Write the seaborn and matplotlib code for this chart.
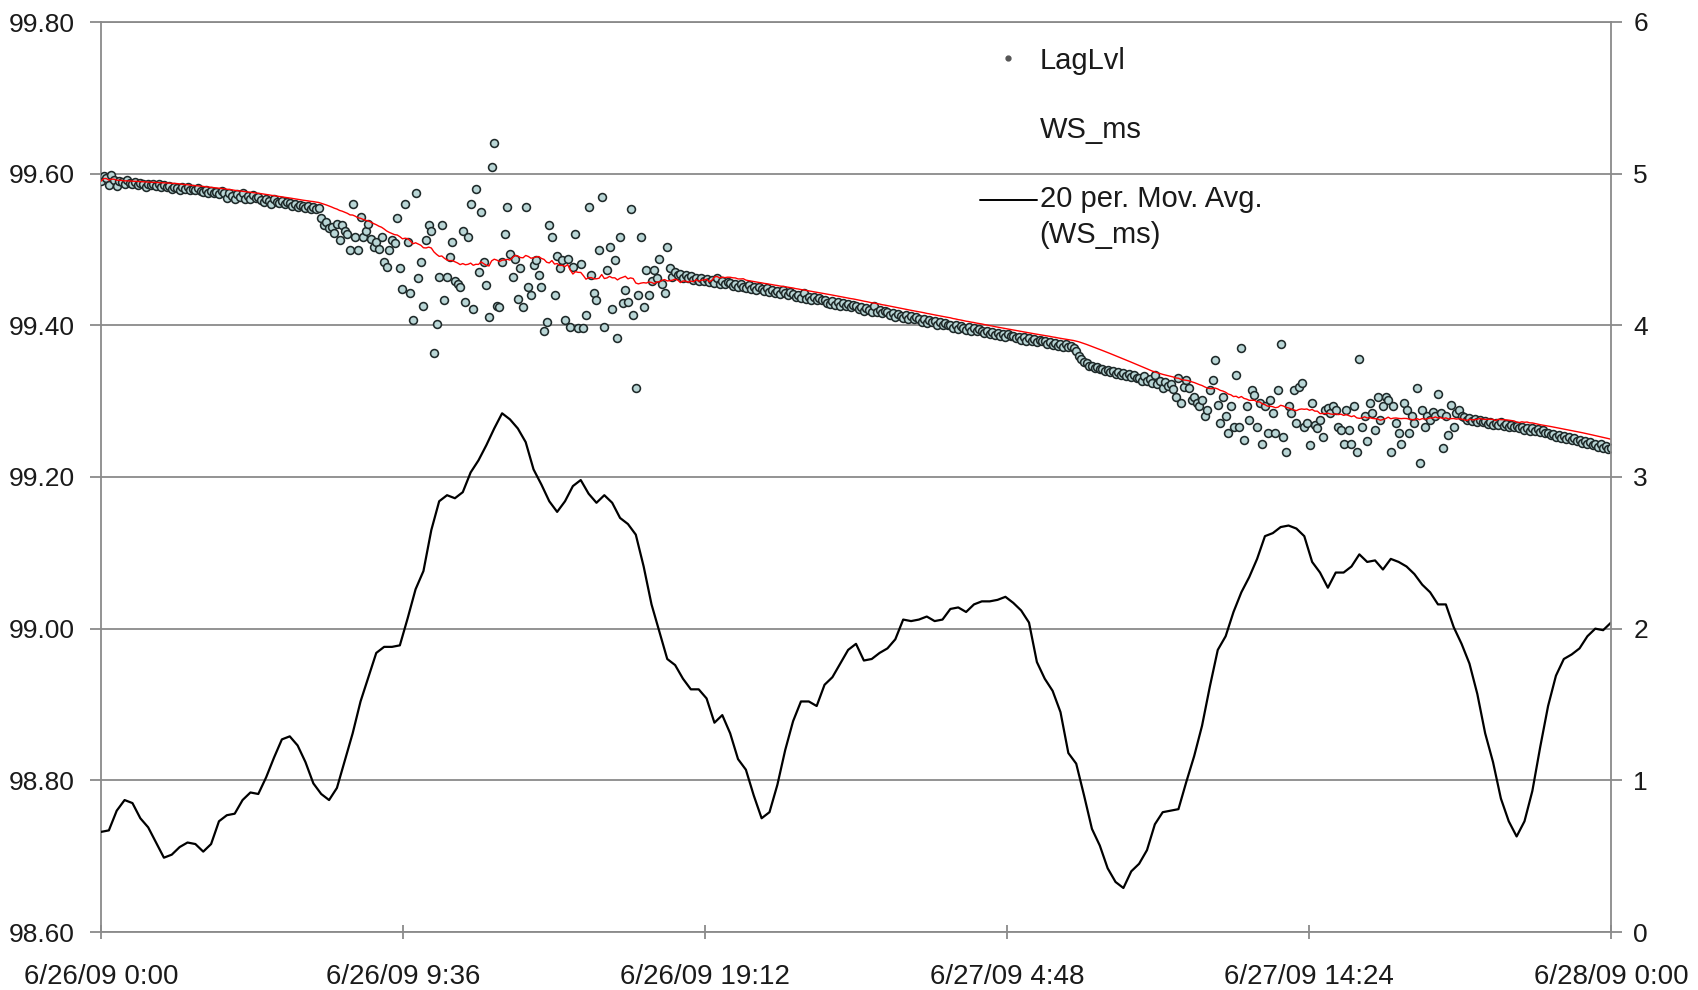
import numpy as np
import pandas as pd
import matplotlib
matplotlib.use("Agg")
import matplotlib.pyplot as plt
import matplotlib.dates as mdates
from matplotlib.lines import Line2D
from matplotlib.ticker import FuncFormatter, FormatStrFormatter
import seaborn as sns

# ---------------- data ----------------
START = "2009-06-26 00:00"
END = "2009-06-28 00:00"
X_TICKS = ["2009-06-26 00:00", "2009-06-26 09:36", "2009-06-26 19:12",
           "2009-06-27 04:48", "2009-06-27 14:24", "2009-06-28 00:00"]
LEFT_TICKS = [98.6, 98.8, 99.0, 99.2, 99.4, 99.6, 99.8]
RIGHT_TICKS = [0, 1, 2, 3, 4, 5, 6]

# LagLvl, one reading every 5 minutes (12 per row = 1 hour)
LAG_LVL = [
    99.590, 99.597, 99.594, 99.585, 99.598, 99.592, 99.584, 99.590, 99.589, 99.586, 99.591, 99.588,
    99.587, 99.589, 99.585, 99.588, 99.586, 99.583, 99.587, 99.585, 99.586, 99.584, 99.586, 99.583,
    99.585, 99.582, 99.584, 99.580, 99.583, 99.581, 99.578, 99.582, 99.580, 99.583, 99.578, 99.580,
    99.578, 99.581, 99.577, 99.576, 99.579, 99.575, 99.577, 99.574, 99.576, 99.573, 99.577, 99.575,
    99.568, 99.574, 99.571, 99.566, 99.573, 99.569, 99.574, 99.567, 99.570, 99.566, 99.572, 99.568,
    99.569, 99.565, 99.562, 99.567, 99.564, 99.560, 99.566, 99.563, 99.561, 99.564, 99.560, 99.562,
    99.561, 99.558, 99.560, 99.556, 99.559, 99.557, 99.555, 99.558, 99.554, 99.556, 99.553, 99.555,
    99.541, 99.532, 99.536, 99.528, 99.530, 99.522, 99.534, 99.512, 99.532, 99.525, 99.520, 99.499,
    99.560, 99.517, 99.499, 99.543, 99.517, 99.525, 99.534, 99.514, 99.503, 99.510, 99.501, 99.517,
    99.484, 99.477, 99.500, 99.512, 99.508, 99.541, 99.475, 99.448, 99.560, 99.510, 99.442, 99.407,
    99.574, 99.462, 99.484, 99.426, 99.512, 99.532, 99.525, 99.363, 99.402, 99.464, 99.532, 99.433,
    99.464, 99.490, 99.510, 99.459, 99.455, 99.451, 99.525, 99.431, 99.517, 99.560, 99.422, 99.580,
    99.470, 99.550, 99.484, 99.453, 99.411, 99.609, 99.640, 99.426, 99.424, 99.484, 99.521, 99.556,
    99.494, 99.464, 99.488, 99.435, 99.475, 99.424, 99.556, 99.451, 99.440, 99.479, 99.486, 99.466,
    99.451, 99.393, 99.404, 99.532, 99.517, 99.440, 99.492, 99.475, 99.486, 99.407, 99.488, 99.398,
    99.477, 99.521, 99.396, 99.481, 99.396, 99.413, 99.556, 99.466, 99.442, 99.433, 99.499, 99.569,
    99.398, 99.473, 99.503, 99.422, 99.486, 99.383, 99.517, 99.429, 99.446, 99.431, 99.554, 99.413,
    99.317, 99.440, 99.517, 99.424, 99.473, 99.440, 99.459, 99.473, 99.462, 99.488, 99.455, 99.442,
    99.503, 99.475, 99.464, 99.470, 99.466, 99.468, 99.463, 99.467, 99.462, 99.465, 99.460, 99.463,
    99.459, 99.463, 99.458, 99.461, 99.457, 99.460, 99.456, 99.462, 99.455, 99.458, 99.454, 99.457,
    99.456, 99.452, 99.455, 99.450, 99.454, 99.451, 99.449, 99.453, 99.448, 99.451, 99.447, 99.450,
    99.448, 99.445, 99.449, 99.444, 99.446, 99.442, 99.445, 99.441, 99.447, 99.443, 99.440, 99.444,
    99.441, 99.437, 99.440, 99.436, 99.442, 99.435, 99.438, 99.434, 99.437, 99.433, 99.436, 99.434,
    99.433, 99.430, 99.428, 99.432, 99.427, 99.431, 99.426, 99.429, 99.425, 99.428, 99.424, 99.427,
    99.425, 99.421, 99.424, 99.419, 99.423, 99.420, 99.418, 99.426, 99.417, 99.420, 99.416, 99.419,
    99.417, 99.413, 99.416, 99.411, 99.415, 99.412, 99.410, 99.414, 99.409, 99.412, 99.408, 99.411,
    99.409, 99.405, 99.408, 99.403, 99.407, 99.404, 99.406, 99.401, 99.404, 99.400, 99.403, 99.401,
    99.401, 99.397, 99.400, 99.395, 99.399, 99.396, 99.394, 99.398, 99.393, 99.396, 99.392, 99.395,
    99.393, 99.390, 99.392, 99.388, 99.391, 99.387, 99.390, 99.386, 99.389, 99.385, 99.388, 99.386,
    99.386, 99.383, 99.385, 99.381, 99.384, 99.380, 99.383, 99.379, 99.382, 99.378, 99.381, 99.379,
    99.379, 99.376, 99.378, 99.374, 99.377, 99.373, 99.376, 99.372, 99.375, 99.371, 99.373, 99.370,
    99.366, 99.360, 99.355, 99.351, 99.350, 99.347, 99.346, 99.344, 99.345, 99.342, 99.343, 99.340,
    99.341, 99.338, 99.340, 99.336, 99.338, 99.335, 99.337, 99.333, 99.336, 99.332, 99.334, 99.331,
    99.331, 99.327, 99.333, 99.326, 99.329, 99.324, 99.335, 99.322, 99.327, 99.318, 99.325, 99.320,
    99.323, 99.316, 99.306, 99.330, 99.297, 99.319, 99.328, 99.317, 99.302, 99.306, 99.297, 99.293,
    99.302, 99.280, 99.288, 99.315, 99.328, 99.354, 99.295, 99.271, 99.306, 99.280, 99.258, 99.293,
    99.266, 99.334, 99.266, 99.370, 99.249, 99.293, 99.275, 99.315, 99.308, 99.266, 99.297, 99.244,
    99.293, 99.258, 99.302, 99.284, 99.258, 99.315, 99.376, 99.253, 99.233, 99.293, 99.284, 99.315,
    99.271, 99.319, 99.324, 99.266, 99.271, 99.242, 99.297, 99.269, 99.264, 99.275, 99.253, 99.288,
    99.291, 99.284, 99.293, 99.288, 99.266, 99.262, 99.244, 99.288, 99.262, 99.244, 99.293, 99.233,
    99.356, 99.266, 99.280, 99.247, 99.297, 99.284, 99.262, 99.306, 99.275, 99.293, 99.306, 99.302,
    99.233, 99.293, 99.271, 99.258, 99.244, 99.297, 99.288, 99.258, 99.280, 99.271, 99.317, 99.218,
    99.288, 99.266, 99.280, 99.275, 99.286, 99.280, 99.310, 99.284, 99.238, 99.280, 99.255, 99.295,
    99.266, 99.284, 99.288, 99.280, 99.279, 99.275, 99.278, 99.274, 99.277, 99.273, 99.275, 99.272,
    99.274, 99.270, 99.273, 99.269, 99.271, 99.268, 99.272, 99.267, 99.270, 99.266, 99.269, 99.266,
    99.267, 99.264, 99.266, 99.262, 99.265, 99.261, 99.264, 99.260, 99.263, 99.259, 99.262, 99.258,
    99.258, 99.256, 99.257, 99.253, 99.256, 99.252, 99.254, 99.250, 99.253, 99.249, 99.251, 99.248,
    99.249, 99.245, 99.248, 99.243, 99.246, 99.242, 99.244, 99.240, 99.243, 99.238, 99.241, 99.237,
    99.238,
]

# 20 per. moving average of WS_ms, read every 15 minutes
WS_MA = [
    0.66, 0.67, 0.80, 0.87, 0.85, 0.75, 0.69, 0.59, 0.49, 0.51, 0.56, 0.59,
    0.58, 0.53, 0.58, 0.73, 0.77, 0.78, 0.87, 0.92, 0.91, 1.02, 1.15, 1.27,
    1.29, 1.23, 1.12, 0.98, 0.91, 0.87, 0.95, 1.13, 1.31, 1.52, 1.68, 1.84,
    1.88, 1.88, 1.89, 2.07, 2.26, 2.38, 2.65, 2.84, 2.88, 2.86, 2.90, 3.03,
    3.11, 3.21, 3.32, 3.42, 3.38, 3.32, 3.23, 3.05, 2.95, 2.84, 2.77, 2.84,
    2.94, 2.98, 2.89, 2.83, 2.88, 2.83, 2.73, 2.69, 2.62, 2.41, 2.16, 1.98,
    1.80, 1.76, 1.67, 1.60, 1.60, 1.54, 1.38, 1.43, 1.31, 1.14, 1.07, 0.90,
    0.75, 0.79, 0.97, 1.20, 1.39, 1.52, 1.52, 1.49, 1.63, 1.68, 1.77, 1.86,
    1.90, 1.79, 1.80, 1.84, 1.87, 1.93, 2.06, 2.05, 2.06, 2.08, 2.05, 2.06,
    2.13, 2.14, 2.11, 2.16, 2.18, 2.18, 2.19, 2.21, 2.17, 2.12, 2.04, 1.78,
    1.67, 1.59, 1.45, 1.18, 1.11, 0.90, 0.68, 0.57, 0.42, 0.33, 0.29, 0.40,
    0.45, 0.54, 0.71, 0.79, 0.80, 0.81, 0.99, 1.16, 1.36, 1.62, 1.86, 1.95,
    2.11, 2.24, 2.34, 2.46, 2.61, 2.63, 2.67, 2.68, 2.66, 2.61, 2.44, 2.37,
    2.27, 2.37, 2.37, 2.41, 2.49, 2.44, 2.45, 2.39, 2.46, 2.44, 2.41, 2.36,
    2.29, 2.24, 2.16, 2.16, 2.01, 1.90, 1.77, 1.57, 1.31, 1.12, 0.88, 0.73,
    0.63, 0.73, 0.93, 1.22, 1.49, 1.69, 1.80, 1.83, 1.87, 1.95, 2.00, 1.99,
    2.04,
]

LABELS = ["LagLvl", "WS_ms", "20 per. Mov. Avg.\n(WS_ms)"]

# ---------------- frames ----------------
lag_df = pd.DataFrame({
    "time": pd.date_range(START, periods=len(LAG_LVL), freq="5min"),
    "LagLvl": LAG_LVL,
})
lag_df["LagAvg"] = lag_df["LagLvl"].rolling(30, min_periods=1).mean()
ws_df = pd.DataFrame({
    "time": pd.date_range(START, periods=len(WS_MA), freq="15min"),
    "WS": WS_MA,
})

# ---------------- style ----------------
sns.set_theme(style="white")
plt.rcParams["font.family"] = ["Liberation Sans", "DejaVu Sans"]
GRID = "#8a8a8a"
TXT = "#1a1a1a"

fig = plt.figure(figsize=(16.98, 9.90), dpi=100)
ax = fig.add_axes([101 / 1698, 1 - 932 / 990, 1510 / 1698, 910 / 990])
ax.set_axisbelow(True)

sns.scatterplot(data=lag_df, x="time", y="LagLvl", ax=ax, marker="o", s=32,
                color="#b9d6d6", edgecolor="#1f2a2a", linewidth=1.15,
                legend=False, zorder=3)
sns.lineplot(data=lag_df, x="time", y="LagAvg", ax=ax, color="#ff0000",
             linewidth=1.0, legend=False, zorder=4)

ax2 = ax.twinx()
sns.lineplot(data=ws_df, x="time", y="WS", ax=ax2, color="black",
             linewidth=1.6, legend=False)

ax.set_xlim(pd.Timestamp(START), pd.Timestamp(END))
ax.set_ylim(LEFT_TICKS[0], LEFT_TICKS[-1])
ax2.set_ylim(RIGHT_TICKS[0], RIGHT_TICKS[-1])
ax.set_yticks(LEFT_TICKS)
ax2.set_yticks(RIGHT_TICKS)
ax.set_xticks(pd.to_datetime(X_TICKS))


def date_fmt(x, pos):
    d = mdates.num2date(x)
    return f"{d.month}/{d.day}/{d:%y} {d.hour}:{d:%M}"


ax.xaxis.set_major_formatter(FuncFormatter(date_fmt))
ax.yaxis.set_major_formatter(FormatStrFormatter("%.2f"))

for a in (ax, ax2):
    a.set_xlabel("")
    a.set_ylabel("")

ax.grid(axis="y", color=GRID, linewidth=1.3)
ax.grid(axis="x", visible=False)
ax2.grid(False)

for name, sp in ax.spines.items():
    sp.set_color(GRID)
    sp.set_linewidth(1.3)
ax.spines["right"].set_visible(False)
for name, sp in ax2.spines.items():
    sp.set_visible(name == "right")
    sp.set_color(GRID)
    sp.set_linewidth(1.3)

ax.tick_params(axis="y", left=True, direction="out", length=8, width=1.3,
               color=GRID, pad=11, labelsize=19, labelcolor=TXT)
ax.tick_params(axis="x", bottom=True, direction="inout", length=10, width=1.3,
               color=GRID, pad=18, labelsize=20, labelcolor=TXT)
ax2.tick_params(axis="y", right=True, direction="out", length=8, width=1.3,
                color=GRID, pad=8, labelsize=19, labelcolor=TXT)

handles = [
    Line2D([], [], linestyle="None", marker="o", markersize=3.5,
           markerfacecolor="#555555", markeredgecolor="#555555"),
    Line2D([], [], linestyle="None"),
    Line2D([], [], color="black", linewidth=1.4),
]
leg = ax2.legend(handles, LABELS, loc="upper left",
                 bbox_to_anchor=(0.582, 0.973), frameon=False, fontsize=21,
                 handlelength=1.95, handletextpad=0.1, labelspacing=1.42,
                 borderpad=0, borderaxespad=0)
for t in leg.get_texts():
    t.set_color(TXT)
leg.get_texts()[2].set_linespacing(1.33)
ma_line = leg.get_lines()[2]
ma_line.set_ydata(np.asarray(ma_line.get_ydata()) + 13)

fig.savefig("out.png", dpi=100, facecolor="white")
